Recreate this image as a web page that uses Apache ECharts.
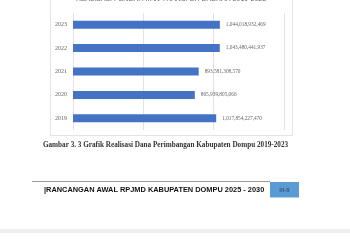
<!DOCTYPE html>
<html>
<head>
<meta charset="utf-8">
<script src="https://cdn.jsdelivr.net/npm/echarts@6/dist/echarts.min.js"></script>
<style>
  html, body { margin: 0; padding: 0; background: #fff; }
  #chart { width: 350px; height: 250px; }
</style>
</head>
<body>
<div id="chart"></div>
<script>
// data
const years = ['2019', '2020', '2021', '2022', '2023'];
const realisasi = [1017854227470, 865939805066, 893581308570, 1043480441937, 1044018932469];
const valueLabels = ['1,017,854,227,470', '865,939,805,066', '893,581,308,570', '1,043,480,441,937', '1,044,018,932,469'];

const chartTitle = 'REALISASI PENDAPATAN TRANSFER DAERAH 2019-2023';
const caption = 'Gambar 3. 3 Grafik Realisasi Dana Perimbangan Kabupaten Dompu 2019-2023';
const footerText = '|RANCANGAN AWAL RPJMD KABUPATEN DOMPU 2025 - 2030';
const pageNo = 'III-8';

const myChart = echarts.init(document.getElementById('chart'));

const option = {
  animation: false,
  backgroundColor: '#fff',
  grid: {
    left: 73,
    right: 66,
    top: 13,
    bottom: 120
  },
  xAxis: {
    type: 'value',
    min: 0,
    max: 1500000000000,
    interval: 500000000000,
    axisLabel: { show: false },
    axisLine: { show: false },
    axisTick: { show: false },
    splitLine: {
      lineStyle: { color: '#e2e2e2', width: 1 }
    }
  },
  yAxis: {
    type: 'category',
    data: years,
    axisLine: { show: false },
    axisTick: { show: false },
    axisLabel: {
      fontSize: 6,
      color: '#666',
      margin: 6,
      fontFamily: 'Liberation Serif'
    }
  },
  series: [
    {
      type: 'bar',
      data: realisasi,
      barWidth: 8,
      itemStyle: { color: '#4472C4' },
      label: {
        show: true,
        position: 'right',
        distance: 6,
        fontSize: 5.3,
        color: '#666',
        fontFamily: 'Liberation Serif',
        formatter: function (p) {
          return valueLabels[p.dataIndex];
        }
      }
    }
  ],
  graphic: [
    // kotak grafik
    {
      type: 'rect',
      shape: { x: 50.5, y: -5, width: 242, height: 140.5 },
      style: { fill: null, stroke: '#e3e3e3', lineWidth: 1 },
      z: -1
    },
    {
      type: 'text',
      x: 171, y: -0.5,
      style: {
        text: chartTitle,
        fontSize: 7,
        fill: '#666',
        fontFamily: 'Liberation Sans',
        align: 'center',
        verticalAlign: 'middle'
      }
    },
    {
      type: 'text',
      x: 165.5, y: 145,
      style: {
        text: caption,
        fontSize: 7.2,
        fontWeight: 'bold',
        fill: '#333',
        fontFamily: 'Liberation Serif',
        align: 'center',
        verticalAlign: 'middle'
      }
    },
    // footer
    {
      type: 'line',
      shape: { x1: 32, y1: 181.5, x2: 270, y2: 181.5 },
      style: { stroke: '#999', lineWidth: 1 }
    },
    {
      type: 'text',
      x: 44, y: 190,
      style: {
        text: footerText,
        fontSize: 7.4,
        fontWeight: 'bold',
        fill: '#111',
        fontFamily: 'Liberation Sans',
        align: 'left',
        verticalAlign: 'middle'
      }
    },
    {
      type: 'rect',
      shape: { x: 270, y: 182, width: 29, height: 15.5 },
      style: { fill: '#5B9BD5' }
    },
    {
      type: 'text',
      x: 284.5, y: 190,
      style: {
        text: pageNo,
        fontSize: 6,
        fontWeight: 'bold',
        fill: '#3a5a85',
        fontFamily: 'Liberation Sans',
        align: 'center',
        verticalAlign: 'middle'
      }
    },
    {
      type: 'rect',
      shape: { x: 0, y: 229, width: 350, height: 4 },
      style: { fill: '#efefef' }
    }
  ]
};

myChart.setOption(option);
window.addEventListener('resize', function () {
  myChart.resize();
});
</script>
</body>
</html>
